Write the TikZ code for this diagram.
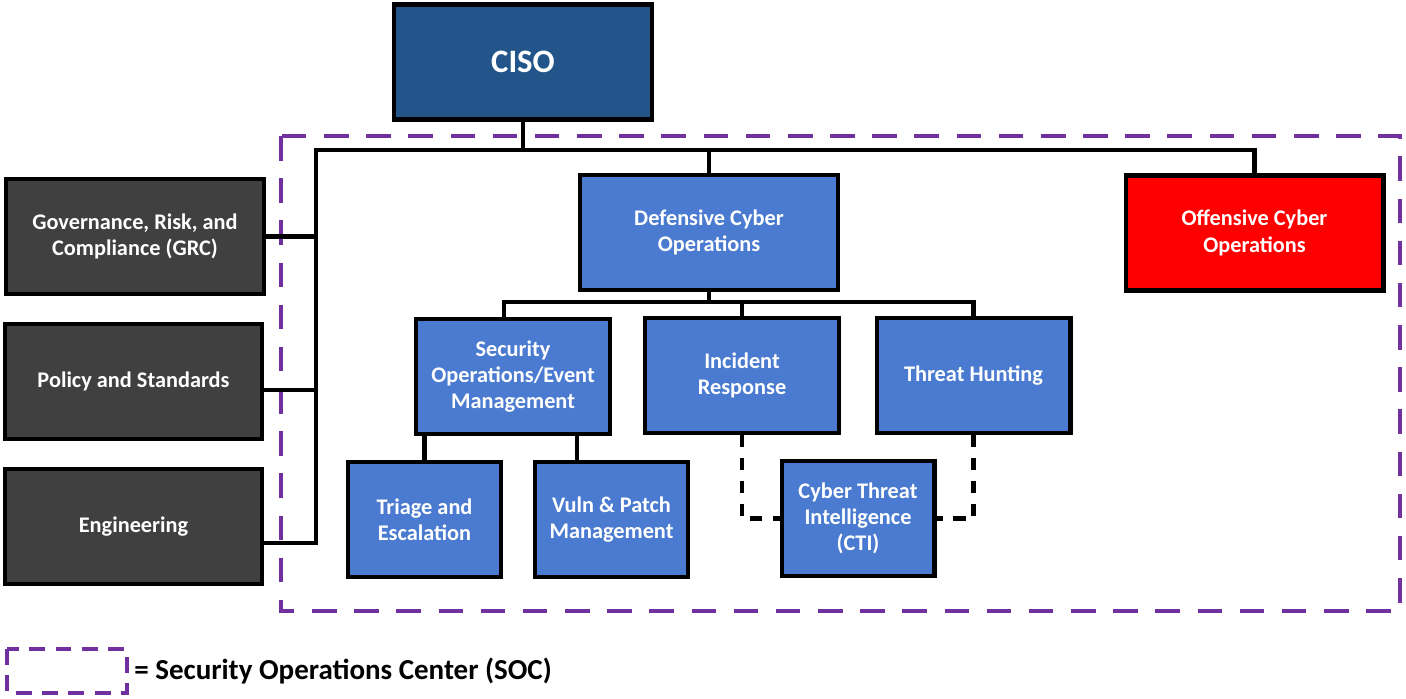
\documentclass[tikz,border=0pt]{standalone}
\usepackage{fontspec}
\setmainfont{Carlito}
\usepackage{xcolor}
\usepackage{tikz}
\usetikzlibrary{positioning,calc}

\definecolor{cisoblue}{HTML}{23558A}
\definecolor{unitblue}{HTML}{4A7BD0}
\definecolor{staffgray}{HTML}{404040}
\definecolor{redteam}{HTML}{FF0000}
\definecolor{socpurple}{HTML}{7030A0}

\begin{document}
\begin{tikzpicture}[
    x=0.02cm, y=-0.02cm,
    box/.style={draw=black, line width=2.3pt, align=center, text=white,
        font=\fontsize{12.7}{15}\selectfont\bfseries, inner sep=2pt},
    bigbox/.style={box, minimum width=5.16cm, minimum height=2.3cm},
    midbox/.style={box, fill=unitblue, minimum width=3.88cm, minimum height=2.3cm},
    smallbox/.style={box, fill=unitblue, minimum width=3.06cm, minimum height=2.3cm},
    conn/.style={line width=2.3pt, line cap=rect},
    dconn/.style={conn, line cap=butt, dash pattern=on 7pt off 6pt},
    soc/.style={socpurple, line width=2.8pt, dash pattern=on 14pt off 10pt},
]
    \useasboundingbox (0,0) rectangle (1406,699);

    % SOC boundary
    \draw[soc] (281,136) rectangle (1400,611);

    % Leadership and staff functions
    \node[bigbox, fill=cisoblue, font=\fontsize{18.6}{22}\selectfont\bfseries] (ciso) at (523,62) {CISO};
    \node[bigbox, fill=staffgray] (grc) at (135,236.5) {Governance, Risk, and\\Compliance (GRC)};
    \node[bigbox, fill=staffgray] (policy) at (133.5,381.5) {Policy and Standards};
    \node[bigbox, fill=staffgray] (eng) at (133.5,526.5) {Engineering};

    % Cyber operations
    \node[bigbox, fill=unitblue] (defensive) at (709,232.5) {Defensive Cyber\\Operations};
    \node[bigbox, fill=redteam] (offensive) at (1254.5,233) {Offensive Cyber\\Operations};

    % Defensive teams
    \node[midbox] (secops) at (513,376.5) {Security\\Operations/Event\\Management};
    \node[midbox] (incident) at (742,375.5) {Incident\\Response};
    \node[midbox] (hunting) at (973.5,375.5) {Threat Hunting};
    \node[smallbox] (triage) at (424.5,519.5) {Triage and\\Escalation};
    \node[smallbox] (vuln) at (611.5,519.5) {Vuln \& Patch\\Management};
    \node[smallbox] (cti) at (858,518.5) {Cyber Threat\\Intelligence\\(CTI)};

    % Tap points
    \coordinate (bus) at (316,150);
    \coordinate (poltap) at (316,390);
    \coordinate (engtap) at (316,543);
    \coordinate (dbus) at (504,302);
    \coordinate (vtap) at (577,436);

    % Top bus
    \draw[conn] (ciso.south) -- (ciso.south |- bus);
    \draw[conn] (engtap) -- (bus) -- (offensive.north |- bus) -- (offensive.north);
    \draw[conn] (defensive.north |- bus) -- (defensive.north);
    \draw[conn] (grc.east) -- (grc.east -| bus);
    \draw[conn] (policy.east |- poltap) -- (poltap);
    \draw[conn] (eng.east |- engtap) -- (engtap);

    % Defensive bus
    \draw[conn] (defensive.south) -- (defensive.south |- dbus);
    \draw[conn] (dbus |- secops.north) -- (dbus) -- (hunting.north |- dbus) -- (hunting.north);
    \draw[conn] (incident.north |- dbus) -- (incident.north);
    \draw[conn] (triage.north |- secops.south) -- (triage.north);
    \draw[conn] (vtap) -- (vtap |- vuln.north);

    % Intel feeds
    \draw[dconn] (incident.south) -- (incident.south |- cti.west) -- (cti.west);
    \draw[dconn] (hunting.south) -- (hunting.south |- cti.east) -- (cti.east);

    % Legend
    \draw[soc, dash pattern=on 9pt off 6pt] (7,649) rectangle (127,693);
    \node[anchor=west, font=\fontsize{16.5}{19}\selectfont\bfseries, inner sep=0pt] (legend) at (134,671) {= Security Operations Center (SOC)};
\end{tikzpicture}
\end{document}
